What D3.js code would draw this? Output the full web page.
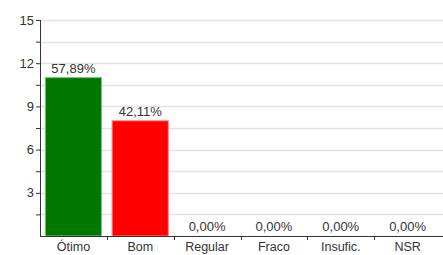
<!DOCTYPE html>
<html>
<head>
<meta charset="utf-8">
<script src="https://cdn.jsdelivr.net/npm/d3@7"></script>
<style>
  html, body { margin: 0; padding: 0; background: #fff; }
  svg { display: block; font-family: "Liberation Sans", Arial, sans-serif; }
</style>
</head>
<body>
<svg id="chart" width="443" height="255"></svg>
<script>
const categories = ["Ótimo", "Bom", "Regular", "Fraco", "Insufic.", "NSR"];
const counts = [11, 8, 0, 0, 0, 0];
const percent_labels = ["57,89%", "42,11%", "0,00%", "0,00%", "0,00%", "0,00%"];
const bar_colors = ["#007800", "#ff0000", "#007800", "#007800", "#007800", "#007800"];
const y_ticks = [3, 6, 9, 12, 15];

const margin = { top: 20, right: 2, bottom: 19, left: 40 };
const width = 443;
const height = 255;
const font = "Liberation Sans, Arial, sans-serif";

const svg = d3.select("#chart");

const x = d3
  .scaleBand()
  .domain(categories)
  .range([margin.left, width - margin.right])
  .paddingInner(0.16)
  .paddingOuter(0.08);

const x_ticks = d3
  .scaleBand()
  .domain(categories)
  .range([margin.left, width - margin.right]);

const y = d3
  .scaleLinear()
  .domain([0, 15])
  .range([height - margin.bottom, margin.top]);

// grid lines every 1.5
const grid_values = d3.range(1.5, 15.01, 1.5);
svg
  .append("g")
  .selectAll("line")
  .data(grid_values)
  .join("line")
  .attr("x1", margin.left)
  .attr("x2", width)
  .attr("y1", (d) => Math.round(y(d)) + 0.5)
  .attr("y2", (d) => Math.round(y(d)) + 0.5)
  .attr("stroke", "#e2e2e2")
  .attr("stroke-width", 1.5);

// bars
svg
  .append("g")
  .selectAll("rect")
  .data(categories)
  .join("rect")
  .attr("x", (d) => x(d))
  .attr("width", x.bandwidth())
  .attr("y", (d, i) => y(counts[i]))
  .attr("height", (d, i) => y(0) - y(counts[i]))
  .attr("fill", (d, i) => bar_colors[i])
  .attr("stroke", (d, i) => (i === 1 ? "#ff8080" : "#80c080"))
  .attr("stroke-width", 1);

// value labels
svg
  .append("g")
  .selectAll("text")
  .data(categories)
  .join("text")
  .attr("x", (d) => x(d) + x.bandwidth() / 2)
  .attr("y", (d, i) => y(counts[i]) - 5)
  .attr("text-anchor", "middle")
  .attr("font-size", 13)
  .attr("fill", "#333")
  .text((d, i) => percent_labels[i]);

// y axis
const y_axis = svg
  .append("g")
  .attr("transform", `translate(${margin.left},0)`)
  .call(d3.axisLeft(y).tickValues(grid_values).tickSize(4).tickFormat((d) => (y_ticks.includes(d) ? d : "")));
y_axis.select(".domain").attr("stroke", "#333").attr("d", `M0.5,${y(15)}V${y(0)}`);
y_axis.selectAll(".tick line").attr("stroke", "#333");
y_axis.selectAll(".tick text").attr("font-size", 13).attr("fill", "#333").attr("x", -6).attr("font-family", font);

// x axis
const x_axis = svg
  .append("g")
  .attr("transform", `translate(0,${y(0)})`)
  .call(d3.axisBottom(x_ticks).tickSize(0));
x_axis.select(".domain").attr("stroke", "#333").attr("d", `M${margin.left},0.5H${width}`);
x_axis.selectAll(".tick text").attr("font-size", 12.5).attr("fill", "#333").attr("dy", "0.71em").attr("y", 6).attr("font-family", font);

// boundary ticks between categories
svg
  .append("g")
  .selectAll("line")
  .data(categories.slice(1))
  .join("line")
  .attr("x1", (d) => Math.round(x_ticks(d)) + 0.5)
  .attr("x2", (d) => Math.round(x_ticks(d)) + 0.5)
  .attr("y1", y(0))
  .attr("y2", y(0) + 4)
  .attr("stroke", "#333");
</script>
</body>
</html>
